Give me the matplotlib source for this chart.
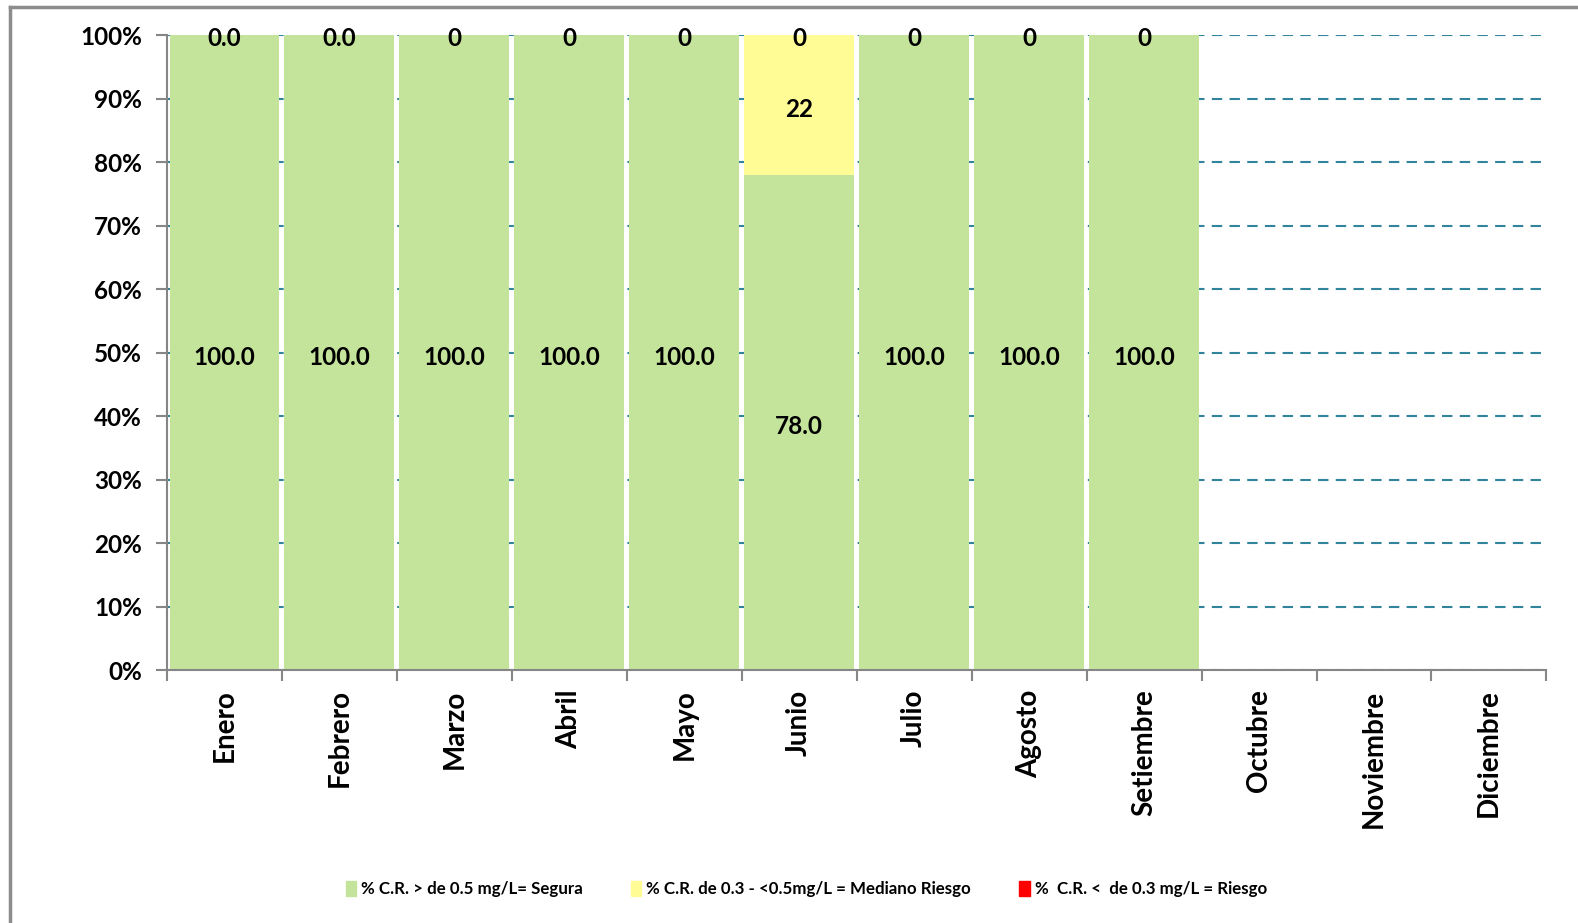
import numpy as np
import matplotlib
matplotlib.use("Agg")
from matplotlib import pyplot as plt
from matplotlib.lines import Line2D
from matplotlib.patches import Patch

plt.rcParams['font.family'] = ['Lato', 'DejaVu Sans']

# dati
mesi = ["Enero", "Febrero", "Marzo", "Abril", "Mayo", "Junio", "Julio",
        "Agosto", "Setiembre", "Octubre", "Noviembre", "Diciembre"]
segura = [100.0, 100.0, 100.0, 100.0, 100.0, 78.0, 100.0, 100.0, 100.0]
mediano = [0, 0, 0, 0, 0, 22, 0, 0, 0]
riesgo = [0, 0, 0, 0, 0, 0, 0, 0, 0]
etichette_riesgo = ["0.0", "0.0", "0", "0", "0", "0", "0", "0", "0"]
nomi_serie = ["% C.R. > de 0.5 mg/L= Segura",
              "% C.R. de 0.3 - <0.5mg/L = Mediano Riesgo",
              "%  C.R. <  de 0.3 mg/L = Riesgo"]

verde = '#C4E39B'
giallo = '#FFFC96'
rosso = '#FF0000'

fig = plt.figure(figsize=(15.78, 9.23), dpi=100)
ax = fig.add_axes([0.1058, 0.2741, 0.980 - 0.1058, 0.9619 - 0.2741])

x = np.arange(len(segura))
seg = np.array(segura)
med = np.array(mediano)
rie = np.array(riesgo)

ax.bar(x, seg, 0.955, color=verde, zorder=2)
ax.bar(x, med, 0.955, bottom=seg, color=giallo, zorder=2)
ax.bar(x, rie, 0.955, bottom=seg + med, color=rosso, zorder=2)

# etichette
for i in range(len(x)):
    ax.text(x[i], seg[i] / 2. - 0.7, "%.1f" % seg[i], ha='center', va='center',
            fontsize=17.5, fontweight='bold', zorder=3)
    if med[i] > 0:
        ax.text(x[i], seg[i] + med[i] / 2. - 0.7, "%d" % med[i], ha='center',
                va='center', fontsize=17.5, fontweight='bold', zorder=3)
    ax.text(x[i], 99.4, etichette_riesgo[i], ha='center', va='center',
            fontsize=17.5, fontweight='bold', zorder=3)

ax.set_xlim(-0.5, len(mesi) - 0.5)
ax.set_ylim(0, 100)

ax.set_yticks(np.arange(0, 101, 10))
ax.set_yticklabels(["%d%%" % v for v in range(0, 101, 10)],
                   fontsize=17.5, fontweight='bold')
ax.set_xticks(np.arange(len(mesi)))
ax.set_xticklabels(mesi, rotation=90, fontsize=20, fontweight='bold')
ax.set_xticks(np.arange(len(mesi) + 1) - 0.5, minor=True)
ax.tick_params(axis='x', which='major', length=0, pad=14)
ax.tick_params(axis='x', which='minor', length=8, width=1.5, color='#868686')
ax.tick_params(axis='y', length=8, width=1.5, color='#868686', pad=10)

ax.grid(axis='y', color='#31849B', linestyle=(0, (5, 3.5)), linewidth=1.5,
        zorder=0)
ax.set_axisbelow(True)

for s in ['top', 'right']:
    ax.spines[s].set_visible(False)
for s in ['left', 'bottom']:
    ax.spines[s].set_color('#868686')
    ax.spines[s].set_linewidth(1.5)

# legenda
maniglie = [Patch(color=verde), Patch(color=giallo), Patch(color=rosso)]
fig.legend(maniglie, nomi_serie, loc='center', bbox_to_anchor=(0.511, 0.037),
           ncol=3, frameon=False, handlelength=0.6, handleheight=1.0,
           handletextpad=0.3, columnspacing=2.85,
           prop={'size': 12.2, 'weight': 'bold', 'family': ['Lato']})

# bordo del grafico
fig.add_artist(Line2D([0.0063, 0.0063], [0, 0.9925], transform=fig.transFigure,
                      color='#8C8C8C', linewidth=2.5))
fig.add_artist(Line2D([0.0063, 1.0], [0.9925, 0.9925], transform=fig.transFigure,
                      color='#8C8C8C', linewidth=2.5))

fig.savefig("out.png", dpi=100)
